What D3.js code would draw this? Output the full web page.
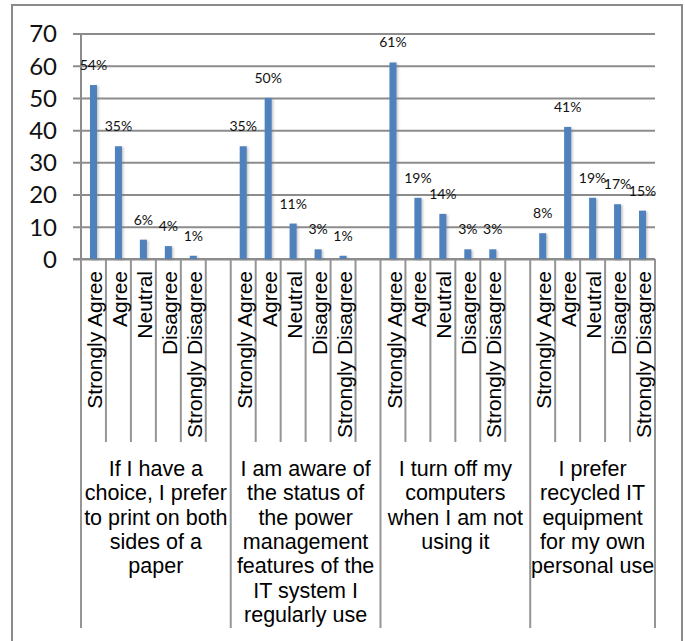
<!DOCTYPE html>
<html>
<head>
<meta charset="utf-8">
<script src="https://cdn.jsdelivr.net/npm/d3@7"></script>
<style>
  html, body { margin: 0; padding: 0; background: #fff; }
  svg { display: block; }
</style>
</head>
<body>
<svg id="chart" width="685" height="641"></svg>
<script>
// Survey statements (group labels, one line per entry)
const statements = [
  ["If I have a", "choice, I prefer", "to print on both", "sides of a", "paper"],
  ["I am aware of", "the status of", "the power", "management", "features of the", "IT system I", "regularly use"],
  ["I turn off my", "computers", "when I am not", "using it"],
  ["I prefer", "recycled IT", "equipment", "for my own", "personal use"]
];

// Likert responses shown under every statement
const responses = ["Strongly Agree", "Agree", "Neutral", "Disagree", "Strongly Disagree"];

// Share of respondents (%) for each response, one array per statement
const printBothSides   = [54, 35, 6, 4, 1];
const powerManagement  = [35, 50, 11, 3, 1];
const turnOffComputers = [61, 19, 14, 3, 3];
const recycledIT       = [8, 41, 19, 17, 15];
const seriesValues = [printBothSides, powerManagement, turnOffComputers, recycledIT];

// Value axis ticks
const yTicks = [0, 10, 20, 30, 40, 50, 60, 70];

const svg = d3.select("#chart");

// Layout
const plotLeft = 81, plotRight = 655, plotTop = 33.5, plotBottom = 259;
const innerTickEnd = 442, groupTickEnd = 628;

// Shadow under each bar
const defs = svg.append("defs");
const f = defs.append("filter").attr("id", "barShadow")
  .attr("x", "-100%").attr("y", "-10%").attr("width", "300%").attr("height", "130%");
f.append("feDropShadow").attr("dx", 1.5).attr("dy", 1).attr("stdDeviation", 1.2)
  .attr("flood-color", "#7a7a7a").attr("flood-opacity", 0.45);

// Outer chart frame
svg.append("rect")
  .attr("x", 12).attr("y", 5).attr("width", 670).attr("height", 680)
  .attr("fill", "#fff").attr("stroke", "#8a8a8a").attr("stroke-width", 2);

// Build the category slots: five responses per statement, one empty slot between statements
const slots = [];
statements.forEach((s, gi) => {
  responses.forEach((r, ri) => {
    slots.push({ id: `g${gi}-r${ri}`, group: gi, response: r, value: seriesValues[gi][ri] });
  });
  if (gi < statements.length - 1) slots.push({ id: `g${gi}-gap`, group: gi, response: null, value: null });
});

const x = d3.scaleBand()
  .domain(slots.map(d => d.id))
  .range([plotLeft, plotRight])
  .padding(0);

const y = d3.scaleLinear()
  .domain([0, 70])
  .range([plotBottom, plotTop]);

// Value axis with gridlines
const yAxis = svg.append("g")
  .attr("transform", `translate(${plotLeft},0)`)
  .call(d3.axisLeft(y).tickValues(yTicks).tickSizeInner(-(plotRight - plotLeft)).tickSizeOuter(0).tickPadding(0));
yAxis.select(".domain").remove();
yAxis.selectAll(".tick line")
  .attr("x1", -8)
  .attr("stroke", "#8c8c8c").attr("stroke-width", 2);
yAxis.selectAll(".tick text")
  .attr("x", -24)
  .attr("dy", "0.35em")
  .attr("fill", "#111")
  .style("font-family", "Lato, 'Open Sans', sans-serif")
  .style("font-size", "24px");

// Vertical axis line
svg.append("line")
  .attr("x1", plotLeft).attr("x2", plotLeft)
  .attr("y1", y(70)).attr("y2", y(0))
  .attr("stroke", "#8c8c8c").attr("stroke-width", 2);

// Category divider lines below the axis
const boundaries = d3.range(slots.length + 1);
const groupStarts = new Set([0, slots.length]);
slots.forEach((s, i) => { if (i > 0 && s.group !== slots[i - 1].group) groupStarts.add(i); });
svg.append("g").selectAll("line")
  .data(boundaries)
  .join("line")
  .attr("x1", i => plotLeft + i * x.step())
  .attr("x2", i => plotLeft + i * x.step())
  .attr("y1", plotBottom)
  .attr("y2", i => groupStarts.has(i) ? groupTickEnd : innerTickEnd)
  .attr("stroke", "#959595").attr("stroke-width", 2);

// Category axis baseline
svg.append("line")
  .attr("x1", plotLeft - 8).attr("x2", plotRight)
  .attr("y1", plotBottom).attr("y2", plotBottom)
  .attr("stroke", "#8c8c8c").attr("stroke-width", 2);

// Bars
const barW = 7;
const filled = slots.filter(d => d.value !== null);
svg.append("g").selectAll("rect")
  .data(filled)
  .join("rect")
  .attr("x", d => x(d.id) + x.bandwidth() / 2 - barW / 2)
  .attr("y", d => y(d.value))
  .attr("width", barW)
  .attr("height", d => y(0) - y(d.value))
  .attr("fill", "#4f81bd")
  .attr("filter", "url(#barShadow)");

// Value labels
svg.append("g").selectAll("text")
  .data(filled)
  .join("text")
  .attr("x", d => x(d.id) + x.bandwidth() / 2)
  .attr("y", d => y(d.value) - 15)
  .attr("text-anchor", "middle")
  .attr("fill", "#111")
  .style("font-family", "Lato, 'Open Sans', sans-serif")
  .style("font-size", "14px")
  .text(d => d.value + "%");

// Rotated response labels
svg.append("g").selectAll("text")
  .data(filled)
  .join("text")
  .attr("transform", d => `translate(${x(d.id) + x.bandwidth() / 2 + 1},${plotBottom + 12}) rotate(-90)`)
  .attr("text-anchor", "end")
  .attr("dy", "0.36em")
  .attr("fill", "#000")
  .style("font-family", "'Liberation Sans', Arial, sans-serif")
  .style("font-size", "21px")
  .text(d => d.response);

// Statement labels centred under each group
const groupExtents = statements.map((s, gi) => {
  const ids = slots.map((d, i) => ({ d, i })).filter(o => o.d.group === gi);
  const first = ids[0].i;
  const last = ids[ids.length - 1].i + 1;
  return [plotLeft + first * x.step(), plotLeft + last * x.step()];
});
const groupLabels = svg.append("g");
statements.forEach((lines, gi) => {
  const cx = (groupExtents[gi][0] + groupExtents[gi][1]) / 2;
  const t = groupLabels.append("text")
    .attr("text-anchor", "middle")
    .attr("fill", "#000")
    .style("font-family", "'Liberation Sans', Arial, sans-serif")
    .style("font-size", "21.5px");
  lines.forEach((ln, li) => {
    t.append("tspan").attr("x", cx).attr("y", 476 + li * 24.3).text(ln);
  });
});
</script>
</body>
</html>
